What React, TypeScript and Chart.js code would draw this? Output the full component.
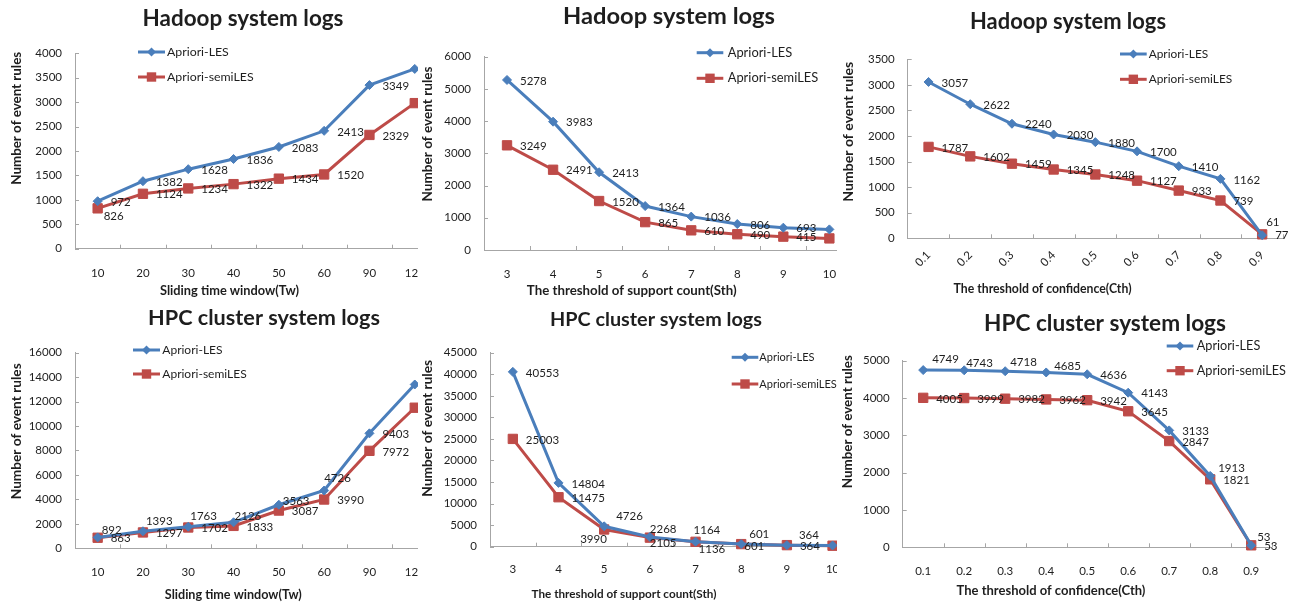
import React, { useEffect, useRef } from 'react';
import { Chart, registerables } from 'chart.js';
Chart.register(...registerables);

// ---------- data ----------
const seriesNames = ['Apriori-LES', 'Apriori-semiLES'];

const twLabels = ['10', '20', '30', '40', '50', '60', '90', '120'];
const sthLabels = ['3', '4', '5', '6', '7', '8', '9', '10'];
const cthLabels = ['0.1', '0.2', '0.3', '0.4', '0.5', '0.6', '0.7', '0.8', '0.9'];

const hadoopTwLES = [972, 1382, 1628, 1836, 2083, 2413, 3349, 3680];
const hadoopTwSemi = [826, 1124, 1234, 1322, 1434, 1520, 2329, 2980];
const hadoopSthLES = [5278, 3983, 2413, 1364, 1036, 806, 693, 640];
const hadoopSthSemi = [3249, 2491, 1520, 865, 610, 490, 415, 360];
const hadoopCthLES = [3057, 2622, 2240, 2030, 1880, 1700, 1410, 1162, 61];
const hadoopCthSemi = [1787, 1602, 1459, 1345, 1248, 1127, 933, 739, 77];
const hpcTwLES = [892, 1393, 1763, 2126, 3563, 4726, 9403, 13400];
const hpcTwSemi = [863, 1297, 1702, 1833, 3087, 3990, 7972, 11500];
const hpcSthLES = [40553, 14804, 4726, 2268, 1164, 601, 364, 290];
const hpcSthSemi = [25003, 11475, 3990, 2105, 1136, 601, 364, 230];
const hpcCthLES = [4749, 4743, 4718, 4685, 4636, 4143, 3133, 1913, 53];
const hpcCthSemi = [4005, 3999, 3982, 3962, 3942, 3645, 2847, 1821, 53];

// ---------- style ----------
const BLUE = '#4A7EBB';
const RED = '#BE4B48';
const AXIS = '#A6A6A6';
const TEXT = '#1E1E1E';
const FONT = 'Lato';

type Panel = {
  box: number[];
  canvasW: number;
  area: number[];
  title: string;
  titlePos: number[];
  titleW: number;
  xTitle: string;
  xTitlePos: number[];
  xTitleW: number;
  yTitlePos: number[];
  yTitleW: number;
  legend: { x1: number; x2: number; tx: number; y: number[]; w: number };
  labels: string[];
  les: number[];
  semi: number[];
  yMax: number;
  yStep: number;
  rot: number;
  xPad: number;
  nudges: Record<string, number[]>;
};

const panels: Panel[] = [
  {
    box: [0, 0, 418, 302], canvasW: 445, area: [75, 53.3, 439.5, 248.7],
    title: 'Hadoop system logs', titlePos: [243, 26], titleW: 201,
    xTitle: 'Sliding time window(Tw)', xTitlePos: [229.5, 291], xTitleW: 139,
    yTitlePos: [16.5, 118.3], yTitleW: 133,
    legend: { x1: 138, x2: 165, tx: 167, y: [52, 77], w: 86.6 },
    labels: twLabels, les: hadoopTwLES, semi: hadoopTwSemi, yMax: 4000, yStep: 500, rot: 0, xPad: 17.4,
    nudges: { '1-0': [6, 8] },
  },
  {
    box: [418, 0, 419, 302], canvasW: 442, area: [484, 56.7, 855, 250],
    title: 'Hadoop system logs', titlePos: [669, 24], titleW: 212,
    xTitle: 'The threshold of support count(Sth)', xTitlePos: [631.7, 290.7], xTitleW: 210,
    yTitlePos: [428, 134], yTitleW: 135,
    legend: { x1: 696.7, x2: 723.3, tx: 727.7, y: [52.7, 78.3], w: 90.6 },
    labels: sthLabels, les: hadoopSthLES, semi: hadoopSthSemi, yMax: 6000, yStep: 1000, rot: 0, xPad: 17,
    nudges: {},
  },
  {
    box: [837, 0, 465, 302], canvasW: 465, area: [907.7, 59.3, 1283, 238.3],
    title: 'Hadoop system logs', titlePos: [1068, 29.3], titleW: 196,
    xTitle: 'The threshold of confidence(Cth)', xTitlePos: [1042.5, 289.3], xTitleW: 178,
    yTitlePos: [848, 131.7], yTitleW: 140,
    legend: { x1: 1120, x2: 1146.7, tx: 1148.7, y: [54, 79.3], w: 83.6 },
    labels: cthLabels, les: hadoopCthLES, semi: hadoopCthSemi, yMax: 3500, yStep: 500, rot: 45, xPad: 10,
    nudges: { '0-8': [4, -13] },
  },
  {
    box: [0, 302, 418, 303], canvasW: 445, area: [75, 352.7, 438.3, 548.3],
    title: 'HPC cluster system logs', titlePos: [264, 325], titleW: 232,
    xTitle: 'Sliding time window(Tw)', xTitlePos: [233.3, 595], xTitleW: 137,
    yTitlePos: [16.5, 431.3], yTitleW: 136,
    legend: { x1: 133, x2: 160, tx: 162.3, y: [350, 374], w: 84.4 },
    labels: twLabels, les: hpcTwLES, semi: hpcTwSemi, yMax: 16000, yStep: 2000, rot: 0, xPad: 17.5,
    nudges: { '0-0': [4, -7], '0-1': [3, -10], '0-2': [2, -10], '0-3': [1, -6], '0-4': [4, -3], '0-5': [0, -12] },
  },
  {
    box: [418, 302, 419, 303], canvasW: 445, area: [490, 352.7, 858.8, 546.7],
    title: 'HPC cluster system logs', titlePos: [656, 326], titleW: 212,
    xTitle: 'The threshold of support count(Sth)', xTitlePos: [624, 594], xTitleW: 185,
    yTitlePos: [427.5, 428.3], yTitleW: 137,
    legend: { x1: 731.7, x2: 758.3, tx: 759.3, y: [357.3, 384], w: 77.5 },
    labels: sthLabels, les: hpcSthLES, semi: hpcSthSemi, yMax: 45000, yStep: 5000, rot: 0, xPad: 15.7,
    nudges: {
      '0-2': [12, -10], '1-2': [-24, 10], '0-3': [0, -8], '1-3': [0, 6], '0-4': [-2, -11],
      '1-4': [3, 7], '0-5': [8, -10], '1-5': [3, 2], '0-6': [12, -10],
    },
  },
  {
    box: [837, 302, 465, 303], canvasW: 465, area: [902.7, 360.7, 1271.7, 547.3],
    title: 'HPC cluster system logs', titlePos: [1105, 330.7], titleW: 242,
    xTitle: 'The threshold of confidence(Cth)', xTitlePos: [1051, 590.7], xTitleW: 189,
    yTitlePos: [847.5, 421.7], yTitleW: 133,
    legend: { x1: 1166.7, x2: 1193.3, tx: 1196.7, y: [346, 370.7], w: 89.3 },
    labels: cthLabels, les: hpcCthLES, semi: hpcCthSemi, yMax: 5000, yStep: 1000, rot: 0, xPad: 17.5,
    nudges: { '0-0': [9, -11], '0-1': [2, -7], '0-2': [5, -9], '0-3': [8, -6], '0-7': [8, -8], '0-8': [6, -8] },
  },
];

function fitSize(ctx: CanvasRenderingContext2D, text: string, targetW: number, weight: string) {
  ctx.font = `${weight} 20px ${FONT}`;
  const w = ctx.measureText(text).width;
  return (20 * targetW) / w;
}

function fitText(ctx: CanvasRenderingContext2D, text: string, targetW: number, weight: string) {
  const size = fitSize(ctx, text, targetW, weight);
  ctx.font = `${weight} ${size.toFixed(2)}px ${FONT}`;
}

function drawMarker(ctx: CanvasRenderingContext2D, kind: number, x: number, y: number, color: string) {
  ctx.fillStyle = color;
  ctx.beginPath();
  if (kind === 0) {
    const r = 4.5;
    ctx.moveTo(x - r, y);
    ctx.lineTo(x, y - r);
    ctx.lineTo(x + r, y);
    ctx.lineTo(x, y + r);
    ctx.closePath();
  } else {
    const h = 4.7;
    ctx.rect(x - h, y - h, 2 * h, 2 * h);
  }
  ctx.fill();
}

function makeConfig(p: Panel): any {
  const [bl, bt, , bh] = p.box;
  const yAxisW = p.area[0] - bl;
  const padTop = p.area[1] - bt;
  const padRight = p.canvasW - (p.area[2] - bl);
  const xAxisH = bh - (p.area[3] - bt);
  const colors = [BLUE, RED];

  const decor = {
    id: 'decor',
    beforeDatasetsDraw(chart: any) {
      const ctx = chart.ctx as CanvasRenderingContext2D;
      const ys = chart.scales.y;
      const ca = chart.chartArea;
      ctx.save();
      ctx.strokeStyle = AXIS;
      ctx.lineWidth = 1;
      ctx.beginPath();
      ys.ticks.forEach((t: any) => {
        const py = Math.round(ys.getPixelForValue(t.value)) + 0.5;
        ctx.moveTo(ca.left, py);
        ctx.lineTo(ca.left + 4, py);
      });
      const n = p.labels.length;
      const step = (ca.right - ca.left) / n;
      for (let i = 1; i <= n; i++) {
        const px = Math.round(ca.left + i * step) + 0.5;
        ctx.moveTo(px, ca.bottom);
        ctx.lineTo(px, ca.bottom - 4);
      }
      ctx.stroke();
      ctx.restore();
    },
    afterDraw(chart: any) {
      const ctx = chart.ctx as CanvasRenderingContext2D;
      ctx.save();
      ctx.fillStyle = TEXT;
      ctx.textAlign = 'center';
      fitText(ctx, p.title, p.titleW, 'bold');
      ctx.textBaseline = 'alphabetic';
      ctx.fillText(p.title, p.titlePos[0] - bl, p.titlePos[1] - bt);
      fitText(ctx, p.xTitle, p.xTitleW, 'bold');
      ctx.textBaseline = 'middle';
      ctx.fillText(p.xTitle, p.xTitlePos[0] - bl, p.xTitlePos[1] - bt);
      const yt = 'Number of event rules';
      fitText(ctx, yt, p.yTitleW, 'bold');
      ctx.save();
      ctx.translate(p.yTitlePos[0] - bl, p.yTitlePos[1] - bt);
      ctx.rotate(-Math.PI / 2);
      ctx.fillText(yt, 0, 0);
      ctx.restore();
      const legSize = fitSize(ctx, seriesNames[1], p.legend.w, 'normal');
      for (let i = 0; i < 2; i++) {
        const y = p.legend.y[i] - bt;
        const x1 = p.legend.x1 - bl;
        const x2 = p.legend.x2 - bl;
        ctx.strokeStyle = colors[i];
        ctx.lineWidth = 3;
        ctx.beginPath();
        ctx.moveTo(x1, y);
        ctx.lineTo(x2, y);
        ctx.stroke();
        drawMarker(ctx, i, (x1 + x2) / 2, y, colors[i]);
        ctx.fillStyle = TEXT;
        ctx.font = `normal ${legSize.toFixed(2)}px ${FONT}`;
        ctx.textAlign = 'left';
        ctx.textBaseline = 'middle';
        ctx.fillText(seriesNames[i], p.legend.tx - bl, y);
      }
      ctx.restore();
    },
  };

  const valueLabels = {
    id: 'valueLabels',
    afterDatasetsDraw(chart: any) {
      const ctx = chart.ctx as CanvasRenderingContext2D;
      ctx.save();
      ctx.fillStyle = TEXT;
      ctx.font = `11.5px ${FONT}`;
      ctx.textAlign = 'left';
      ctx.textBaseline = 'middle';
      chart.data.datasets.forEach((ds: any, d: number) => {
        const meta = chart.getDatasetMeta(d);
        meta.data.forEach((pt: any, i: number) => {
          const nd = p.nudges[`${d}-${i}`] || [13, 1];
          ctx.fillText(String(ds.data[i]), pt.x + nd[0], pt.y + nd[1]);
        });
      });
      ctx.restore();
    },
  };

  return {
    type: 'line',
    data: {
      labels: p.labels,
      datasets: [
        {
          label: seriesNames[0], data: p.les, borderColor: BLUE, backgroundColor: BLUE,
          pointBackgroundColor: BLUE, pointBorderColor: BLUE, borderWidth: 3, pointStyle: 'rectRot',
          pointRadius: 4.5, pointBorderWidth: 1, tension: 0, clip: false,
        },
        {
          label: seriesNames[1], data: p.semi, borderColor: RED, backgroundColor: RED,
          pointBackgroundColor: RED, pointBorderColor: RED, borderWidth: 3, pointStyle: 'rect',
          pointRadius: 6.6, pointBorderWidth: 1, tension: 0, clip: false,
        },
      ],
    },
    options: {
      animation: false,
      responsive: false,
      devicePixelRatio: 1,
      layout: { padding: { left: 0, top: padTop, right: padRight, bottom: 0 } },
      plugins: { legend: { display: false }, title: { display: false }, tooltip: { enabled: false } },
      scales: {
        x: {
          type: 'category',
          offset: true,
          grid: { offset: true, drawOnChartArea: false, drawTicks: false },
          border: { display: true, color: AXIS, width: 1 },
          ticks: {
            autoSkip: false, maxRotation: p.rot, minRotation: p.rot, padding: p.xPad,
            color: TEXT, font: { family: FONT, size: 11.5 },
          },
          afterFit: (s: any) => { s.height = xAxisH; },
        },
        y: {
          min: 0, max: p.yMax,
          grid: { drawOnChartArea: false, drawTicks: false },
          border: { display: true, color: AXIS, width: 1 },
          ticks: {
            stepSize: p.yStep, padding: 13, color: TEXT, font: { family: FONT, size: 11.5 },
            callback: (v: any) => String(v),
          },
          afterFit: (s: any) => { s.width = yAxisW; },
        },
      },
    },
    plugins: [decor, valueLabels],
  };
}

function PanelChart({ p }: { p: Panel }) {
  const ref = useRef<HTMLCanvasElement>(null);
  useEffect(() => {
    const chart = new Chart(ref.current as HTMLCanvasElement, makeConfig(p));
    return () => chart.destroy();
  }, [p]);
  const [bl, bt, bw, bh] = p.box;
  return (
    <div style={{ position: 'absolute', left: bl, top: bt, width: bw, height: bh, overflow: 'hidden' }}>
      <canvas ref={ref} width={p.canvasW} height={bh} style={{ display: 'block', width: p.canvasW, height: bh }} />
    </div>
  );
}

export default function App() {
  return (
    <div style={{ position: 'fixed', left: 0, top: 0, width: 1302, height: 605, background: '#fff', overflow: 'hidden' }}>
      {panels.map((p, i) => (
        <PanelChart key={i} p={p} />
      ))}
    </div>
  );
}
